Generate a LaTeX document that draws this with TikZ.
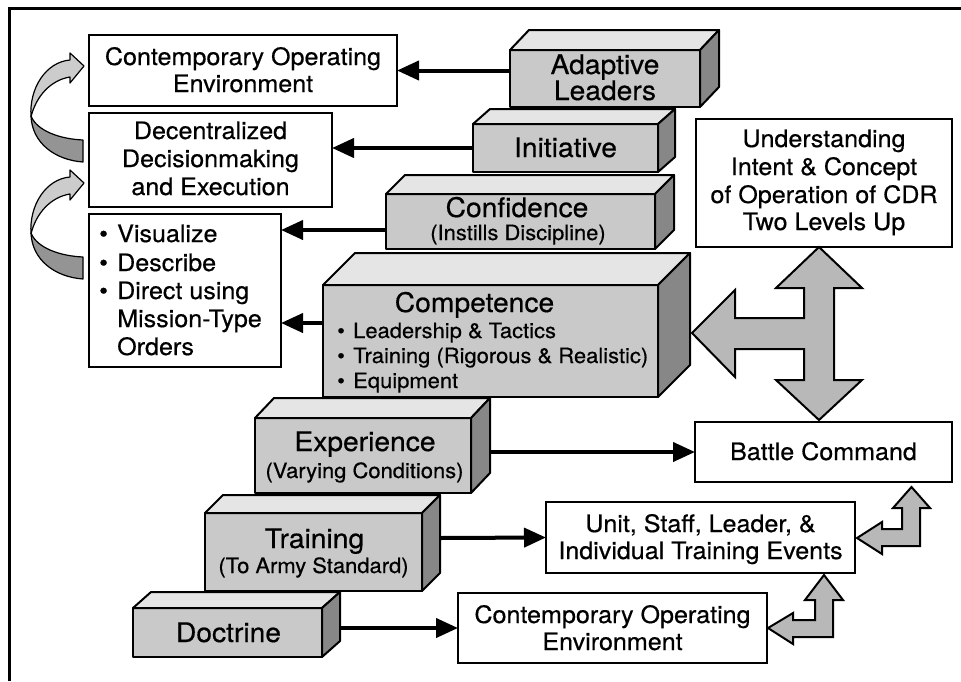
\documentclass[tikz,border=0pt]{standalone}
\usepackage{fontspec}
\setmainfont{TeX Gyre Heros}[FakeStretch=1.045, FakeBold=0.5]
\usetikzlibrary{arrows.meta}
\definecolor{frontc}{gray}{0.79}
\definecolor{topc}{gray}{0.90}
\definecolor{sidec}{gray}{0.53}
\definecolor{arrc}{gray}{0.72}
\definecolor{curvl}{gray}{0.80}
\definecolor{curvd}{gray}{0.58}
\newcommand{\myboxf}{\fontsize{24}{28}\selectfont}
\newcommand{\mytitf}{\fontsize{27}{30}\selectfont}
\newcommand{\mysubf}{\fontsize{21}{25}\selectfont}
\newcommand{\myblock}[7]{%
  \node[frontface, minimum width={(#4-#2)*1pt}, minimum height={(#5-#3)*1pt}] (#1) at ({(#2+#4)/2},{(#3+#5)/2}) {};
  \draw[topface] (#1.north west) -- ++(#6,-#7) -- ++({#4-#2},0) -- (#1.north east) -- cycle;
  \draw[sideface] (#1.north east) -- ++(#6,-#7) -- ++(0,{#5-#3}) -- (#1.south east) -- cycle;
}
\newcommand{\mycurv}[2]{%
  \begin{scope}[shift={(0,#2)}]
    \draw[curvpart, fill=curvd] (31,116) .. controls (37,131) and (60,139) .. (83,140) -- (83,162) .. controls (55,160) and (32,143) .. (31,116) -- cycle;
    \draw[curvpart, fill=curvl] (70,60) .. controls (46,62) and (29,88) .. (31,117) .. controls (36,96) and (51,80) .. (70,77) -- (70,83) -- (84,66) -- (70,53) -- cycle;
  \end{scope}
}
\begin{document}
\begin{tikzpicture}[x=1pt,y=-1pt,
  wbox/.style={draw, line width=2.4pt, fill=white, inner sep=0pt, outer sep=0pt},
  frontface/.style={draw, line width=2pt, fill=frontc, inner sep=0pt, outer sep=0pt, line join=round},
  topface/.style={draw, line width=2pt, fill=topc, line join=round},
  sideface/.style={draw, line width=2pt, fill=sidec, line join=round},
  txt/.style={inner sep=0pt, anchor=base},
  ltxt/.style={inner sep=0pt, anchor=base west},
  arr/.style={line width=4pt, -{Triangle[length=22pt,width=19pt]}},
  gshape/.style={draw, line width=2pt, fill=arrc, line join=miter},
  curvpart/.style={draw, line width=1.2pt, line join=round}]
\useasboundingbox (0,0) rectangle (961,681);
\fill[white] (0,0) rectangle (961,681);
\draw[line width=3pt] (9,681) -- (9,8) -- (961,8);

% white boxes
\node[wbox, minimum width=308pt, minimum height=71pt] (coe1) at (243,70.5) {};
\node[wbox, minimum width=243pt, minimum height=94pt] (dec) at (210.5,160) {};
\node[wbox, minimum width=192pt, minimum height=153pt] (bul) at (185,290.5) {};
\node[wbox, minimum width=256pt, minimum height=128pt] (und) at (824,183) {};
\node[wbox, minimum width=257pt, minimum height=60pt] (bc) at (823.5,452) {};
\node[wbox, minimum width=309pt, minimum height=71pt] (unit) at (700.5,537.5) {};
\node[wbox, minimum width=309pt, minimum height=70pt] (coe2) at (612.5,628) {};

% blocks
\myblock{adapt}{510}{50}{700}{107}{19}{20}
\myblock{init}{473}{124}{658}{172}{17}{15}
\myblock{conf}{386}{194}{655}{249}{19}{19}
\myblock{comp}{323}{285}{658}{397}{32}{32}
\myblock{expe}{255}{418}{471}{493}{19}{20}
\myblock{trai}{205}{513}{422}{591}{18}{18}
\myblock{doct}{133}{608}{322}{657}{18}{16}

% curved arrows
\mycurv{a}{0}
\mycurv{b}{117}

% cross arrow
\draw[gshape] (819,247) -- (862,288) -- (834,288) -- (834,380) -- (862,380) -- (819,420) -- (776,380) -- (804,380) -- (804,349) -- (735,349) -- (735,377) -- (692,333) -- (735,290) -- (735,318) -- (804,318) -- (804,288) -- (776,288) -- cycle;
% bent arrows
\draw[gshape] (857,538) -- (882,522) -- (882,529) -- (902,529) -- (902,508) -- (893,508) -- (911.5,487) -- (930,508) -- (920,508) -- (920,546) -- (882,546) -- (882,554) -- cycle;
\draw[gshape] (768,628) -- (793,613) -- (793,620) -- (815,620) -- (815,600) -- (805,600) -- (824,575) -- (843,600) -- (833,600) -- (833,637) -- (793,637) -- (793,644) -- cycle;

% black arrows
\coordinate (sconf) at (386,230);
\coordinate (scomp) at (323,323);
\coordinate (sexpe) at (490,452);
\coordinate (strai) at (440,538);
\coordinate (sdoct) at (339,628);
\draw[arr] (adapt.west |- coe1.east) -- (coe1.east);
\draw[arr] (init.west) -- (init.west -| dec.east);
\draw[arr] (sconf) -- (sconf -| bul.east);
\draw[arr] (scomp) -- (scomp -| bul.east);
\draw[arr] (sexpe) -- (bc.west);
\draw[arr] (strai) -- (unit.west);
\draw[arr] (sdoct) -- (coe2.west);

% box texts
\begin{scope}[font=\myboxf]
\node[txt] (t1a) at (243,65) {Contemporary Operating};
\node[txt] (t1b) at (243,92) {Environment};
\node[txt] (t2a) at (210.5,139) {Decentralized};
\node[txt] (t2b) at (210.5,167) {Decisionmaking};
\node[txt] (t2c) at (210.5,195) {and Execution};
\node[ltxt] (t3a) at (99,242) {\makebox[18pt][l]{•}Visualize};
\node[ltxt] (t3b) at (99,271) {\makebox[18pt][l]{•}Describe};
\node[ltxt] (t3c) at (99,299) {\makebox[18pt][l]{•}Direct using};
\node[ltxt] (t3d) at (117,327) {Mission-Type};
\node[ltxt] (t3e) at (117,355) {Orders};
\node[txt] (t4a) at (824,147) {Understanding};
\node[txt] (t4b) at (824,175) {Intent \& Concept};
\node[txt] (t4c) at (824,203) {of Operation of CDR};
\node[txt] (t4d) at (824,230) {Two Levels Up};
\node[txt] (t5) at (823.5,460) {Battle Command};
\node[txt] (t6a) at (700.5,532) {Unit, Staff, Leader, \&};
\node[txt] (t6b) at (700.5,559) {Individual Training Events};
\node[txt] (t7a) at (612.5,623) {Contemporary Operating};
\node[txt] (t7b) at (612.5,650) {Environment};
\end{scope}

% block texts
\begin{scope}[font=\mytitf]
\node[txt] (b1a) at (605,74) {Adaptive};
\node[txt] (b1b) at (605,100) {Leaders};
\node[txt] (b2) at (565.5,157) {Initiative};
\node[txt] (b3) at (517,217) {Confidence};
\node[txt] (b4) at (474.5,312) {Competence};
\node[txt] (b5) at (365,451) {Experience};
\node[txt] (b6) at (314.5,548) {Training};
\node[txt] (b7) at (228.5,642) {Doctrine};
\end{scope}
\begin{scope}[font=\mysubf]
\node[txt] (s3) at (518,240) {(Instills Discipline)};
\node[ltxt] (s4a) at (337,338) {\makebox[16pt][l]{•}Leadership \& Tactics};
\node[ltxt] (s4b) at (337,363) {\makebox[16pt][l]{•}Training (Rigorous \& Realistic)};
\node[ltxt] (s4c) at (337,388) {\makebox[16pt][l]{•}Equipment};
\node[txt] (s5) at (364.5,478) {(Varying Conditions)};
\node[txt] (s6) at (313.5,573) {(To Army Standard)};
\end{scope}
\end{tikzpicture}
\end{document}
